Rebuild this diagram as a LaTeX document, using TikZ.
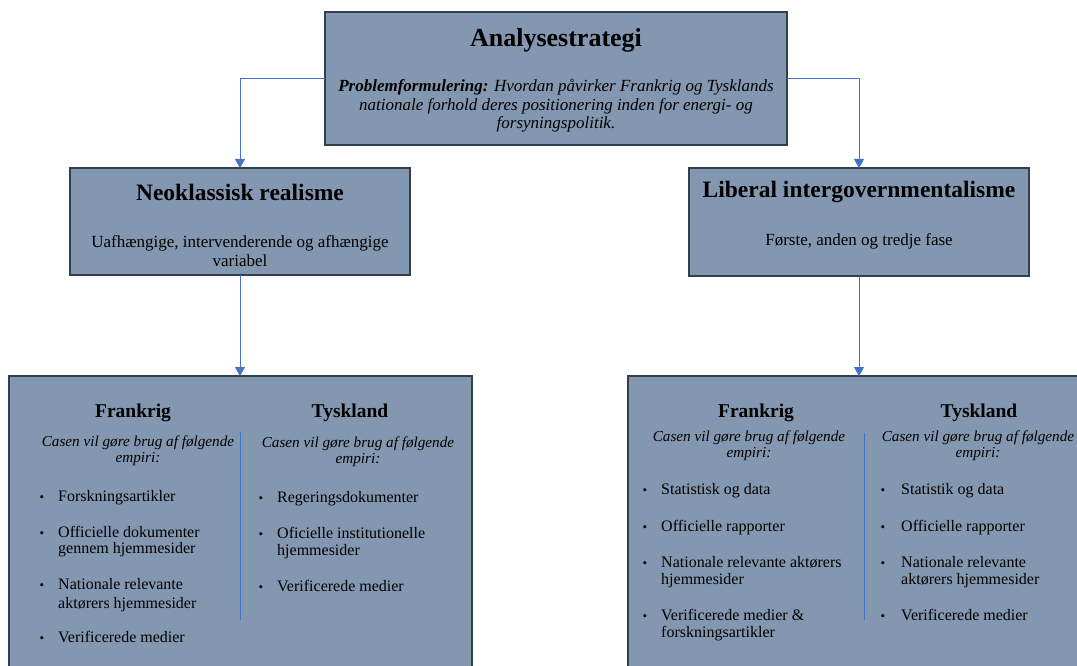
\documentclass[tikz,border=0pt]{standalone}
\usepackage{fontspec}
\setmainfont{Liberation Serif}
\usetikzlibrary{arrows.meta}
\definecolor{boxfill}{HTML}{8497B0}
\definecolor{boxline}{HTML}{323F4F}
\definecolor{arrowblue}{HTML}{4472C4}
\tikzset{
 panel/.style={draw=boxline, line width=1.6pt, fill=boxfill, rectangle, inner sep=0pt, outer sep=0pt},
 conn/.style={draw=arrowblue, line width=1pt, -{Triangle[width=10pt,length=9pt]}},
 divider/.style={draw=arrowblue, line width=1pt},
 bigtitle/.style={font=\fontsize{26}{30}\selectfont\bfseries, inner sep=0pt},
 midtitle/.style={font=\fontsize{23.5}{26}\selectfont\bfseries, inner sep=0pt},
 body/.style={font=\fontsize{17}{18.5}\selectfont, align=center, inner sep=0pt},
 coltitle/.style={font=\fontsize{19.5}{23}\selectfont\bfseries, inner sep=0pt},
 intro/.style={font=\fontsize{15.2}{16}\selectfont\itshape, align=center, inner sep=0pt},
 itm/.style={font=\fontsize{16}{16}\selectfont, align=left, inner sep=0pt, anchor=base west},
 itmr/.style={font=\fontsize{16}{17.5}\selectfont, align=left, inner sep=0pt, anchor=base west},
 bul/.style={font=\fontsize{13}{14}\selectfont, inner sep=0pt, anchor=base},
}
\begin{document}
\begin{tikzpicture}[x=1pt,y=-1pt]
\useasboundingbox (0,0) rectangle (1077,666);
\begin{scope}
\clip (0,0) rectangle (1077,666);
% boxes
\node[panel, minimum width=462pt, minimum height=133pt] (top) at (556,78.5) {};
\node[panel, minimum width=340pt, minimum height=107pt] (lm) at (240,221.5) {};
\node[panel, minimum width=340pt, minimum height=108pt] (rm) at (859,222) {};
\node[panel, minimum width=463pt, minimum height=330pt, anchor=north west] (bl) at (9,376) {};
\node[panel, minimum width=500pt, minimum height=330pt, anchor=north west] (br) at (628,376) {};
% top texts
\node[bigtitle] (ttl) at (556,40) {Analysestrategi};
\node[body] (prob) at (556,106) {\textbf{\textit{Problemformulering:}} \textit{Hvordan påvirker Frankrig og Tysklands}\\\textit{nationale forhold deres positionering inden for energi- og}\\\textit{forsyningspolitik.}};
% middle texts
\node[midtitle] (lmt) at (240,192) {Neoklassisk realisme};
\node[body, font=\fontsize{17}{19}\selectfont] (lmb) at (240,251) {Uafhængige, intervenderende og afhængige\\variabel};
\node[midtitle] (rmt) at (859,192) {Liberal intergovernmentalisme};
\node[body] (rmb) at (859,241) {Første, anden og tredje fase};
% connectors
\draw[conn] (top.west) -| (lm.north);
\draw[conn] (top.east) -| (rm.north);
\draw[conn] (lm.south) -- (lm.south |- bl.north);
\draw[conn] (rm.south) -- (rm.south |- br.north);
% bottom-left
\node[coltitle] (blf) at (133,413) {Frankrig};
\node[coltitle] (blt) at (350,413) {Tyskland};
\node[intro] (blfi) at (138,451) {Casen vil gøre brug af følgende\\empiri:};
\node[intro] (blti) at (358,452) {Casen vil gøre brug af følgende\\empiri:};
\coordinate (bld1) at (240,432);
\coordinate (bld2) at (240,620);
\draw[divider] (bld1) -- (bld2);
\node[bul] (blb1) at (42,501) {•};
\node[itm] (bli1) at (58,501) {Forskningsartikler};
\node[bul] (blb2) at (42,537) {•};
\node[itm] (bli2) at (58,553) {Officielle dokumenter\\gennem hjemmesider};
\node[bul] (blb3) at (42,589) {•};
\node[itm] (bli3) at (58,608) {Nationale relevante\\[3pt]aktørers hjemmesider};
\node[bul] (blb4) at (42,642) {•};
\node[itm] (bli4) at (58,642) {Verificerede medier};
\node[bul] (blb5) at (261,502) {•};
\node[itm] (bli5) at (277,502) {Regeringsdokumenter};
\node[bul] (blb6) at (261,538) {•};
\node[itm] (bli6) at (277,555) {Oficielle institutionelle\\[1pt]hjemmesider};
\node[bul] (blb7) at (261,591) {•};
\node[itm] (bli7) at (277,591) {Verificerede medier};
% bottom-right
\node[coltitle] (brf) at (756,413) {Frankrig};
\node[coltitle] (brt) at (979,413) {Tyskland};
\node[intro] (brfi) at (749,446) {Casen vil gøre brug af følgende\\empiri:};
\node[intro] (brti) at (978,446) {Casen vil gøre brug af følgende\\empiri:};
\coordinate (brd1) at (864,433);
\coordinate (brd2) at (864,620);
\draw[divider] (brd1) -- (brd2);
\node[bul] (brb1) at (645,494) {•};
\node[itmr] (bri1) at (661,494) {Statistisk og data};
\node[bul] (brb2) at (645,531) {•};
\node[itmr] (bri2) at (661,531) {Officielle rapporter};
\node[bul] (brb3) at (645,567) {•};
\node[itmr] (bri3) at (661,584.5) {Nationale relevante aktørers\\hjemmesider};
\node[bul] (brb4) at (645,620) {•};
\node[itmr] (bri4) at (661,637.5) {Verificerede medier \&\\forskningsartikler};
\node[bul] (brb5) at (883,494) {•};
\node[itmr] (bri5) at (901,494) {Statistik og data};
\node[bul] (brb6) at (883,531) {•};
\node[itmr] (bri6) at (901,531) {Officielle rapporter};
\node[bul] (brb7) at (883,567) {•};
\node[itmr] (bri7) at (901,584.5) {Nationale relevante\\aktørers hjemmesider};
\node[bul] (brb8) at (883,620) {•};
\node[itmr] (bri8) at (901,620) {Verificerede medier};
\end{scope}
\end{tikzpicture}
\end{document}
